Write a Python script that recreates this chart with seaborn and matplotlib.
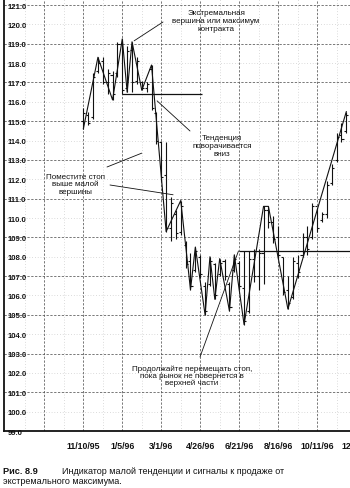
import numpy as np
import pandas as pd
import matplotlib
matplotlib.use("Agg")
import matplotlib.pyplot as plt
import matplotlib.dates as mdates
from matplotlib import font_manager
from matplotlib.ticker import FixedLocator, FixedFormatter
import seaborn as sns

# ---------------- DATA ----------------
bar_dates = pd.date_range("1995-11-10", periods=55, freq="7D")
highs = [115.7, 115.5, 117.5, 118.3, 118.3, 117.7, 117.6, 119.1, 119.25, 118.9,
         119.1, 118.3, 117.1, 117.0, 117.9, 115.5, 114.0, 113.9, 111.1, 110.4,
         110.9, 108.8, 108.2, 108.5, 108.1, 106.7, 108.0, 107.7, 107.9, 107.9,
         106.7, 108.1, 107.8, 108.3, 108.3, 108.4, 108.4, 110.6, 110.6, 110.1,
         109.6, 108.0, 107.0, 108.0, 108.1, 109.2, 109.6, 110.8, 110.5, 110.3,
         111.9, 112.8, 114.4, 114.9, 115.5]
lows = [114.6, 114.8, 115.1, 117.5, 116.9, 116.4, 116.1, 117.3, 116.4, 116.5,
        116.5, 116.9, 116.6, 116.5, 115.6, 113.8, 111.9, 109.3, 108.8, 108.9,
        109.1, 107.4, 106.3, 107.2, 106.9, 105.0, 106.5, 105.8, 107.0, 106.8,
        105.2, 107.2, 106.3, 104.5, 105.1, 106.7, 106.3, 106.6, 109.5, 108.7,
        107.9, 106.0, 105.3, 105.8, 106.9, 108.0, 108.1, 108.9, 109.3, 109.8,
        110.0, 111.7, 112.9, 113.9, 114.4]
opens = [115.0, 115.3, 115.2, 117.6, 118.1, 117.0, 117.4, 117.5, 119.0, 116.7,
         118.7, 117.1, 117.0, 116.7, 117.7, 115.4, 113.9, 112.2, 109.5, 110.2,
         109.3, 108.6, 107.8, 107.3, 108.0, 106.5, 106.6, 107.6, 107.1, 107.8,
         106.6, 107.3, 107.7, 106.4, 105.2, 107.9, 107.0, 108.2, 110.4, 109.8,
         109.0, 108.0, 106.3, 105.9, 107.7, 108.1, 109.0, 109.0, 110.6, 109.9,
         110.2, 111.8, 113.0, 114.3, 114.5]
closes = [115.4, 114.9, 117.3, 118.0, 117.0, 117.5, 116.4, 119.0, 116.6, 118.6,
          117.0, 118.1, 116.7, 116.9, 115.7, 114.0, 112.1, 109.5, 110.8, 109.2,
          110.6, 107.6, 106.5, 108.3, 107.1, 105.2, 107.8, 106.0, 107.7, 107.0,
          105.4, 107.9, 106.5, 104.7, 107.9, 107.0, 108.2, 110.4, 109.8, 108.9,
          108.1, 106.2, 105.6, 107.8, 107.2, 109.0, 108.4, 110.6, 109.5, 110.2,
          111.7, 112.6, 114.2, 114.1, 115.3]

swing_dates = pd.to_datetime([
    "1995-11-10", "1995-12-01", "1995-12-22", "1996-01-05", "1996-01-12",
    "1996-01-19", "1996-02-02", "1996-02-16", "1996-03-08", "1996-03-29",
    "1996-04-12", "1996-04-19", "1996-05-03", "1996-05-10", "1996-05-17",
    "1996-05-24", "1996-06-07", "1996-06-14", "1996-06-28", "1996-07-26",
    "1996-08-02", "1996-08-30", "1996-11-22"])
swing_prices = [114.6, 118.3, 116.1, 119.25, 116.5,
                119.1, 116.6, 117.9, 109.3, 110.9,
                106.3, 108.5, 105.0, 108.0, 105.8,
                107.9, 105.2, 108.1, 104.5, 110.6,
                110.6, 105.3, 115.5]

stop_levels = [116.4, 108.3]
stop_starts = pd.to_datetime(["1996-01-05", "1996-06-21"])
stop_ends = pd.to_datetime(["1996-04-28", "1996-11-27"])

tick_dates = pd.to_datetime(["1995-09-15", "1995-11-10", "1996-01-05", "1996-03-01",
                             "1996-04-26", "1996-06-21", "1996-08-16", "1996-10-11",
                             "1996-12-06"])
tick_labels = ["", "11/10/95", "1/5/96", "3/1/96", "4/26/96", "6/21/96",
               "8/16/96", "10/11/96", "12/6/96"]
mid_dates = pd.to_datetime(["1995-08-18", "1995-10-13", "1995-12-08", "1996-02-02",
                            "1996-03-29", "1996-05-24", "1996-07-19", "1996-09-13",
                            "1996-11-08"])
y_major = [99, 101, 103, 105, 107, 109, 111, 113, 115, 117, 119, 121]
y_minor = [100, 102, 104, 106, 108, 110, 112, 114, 116, 118, 120]

notes = ["Экстремальная\nвершина или максимум\nконтракта",
         "Тенденция\nповорачивается\nвниз",
         "Поместите стоп\nвыше малой\nвершины",
         "Продолжайте перемещать стоп,\nпока рынок не повернется в\nверхней части"]
note_targets_dates = pd.to_datetime(["1996-01-22", "1996-02-24", "1996-02-02",
                                     "1996-03-18", "1996-06-20"])
note_targets_prices = [119.15, 116.05, 113.35, 111.2, 108.3]

caption_num = "Рис. 8.9"
caption_1 = "Индикатор малой тенденции и сигналы к продаже от"
caption_2 = "экстремального максимума."

# ---------------- STYLE ----------------
sns.set_style("white")
names = {f.name for f in font_manager.fontManager.ttflist}
narrow = "Liberation Sans Narrow" if "Liberation Sans Narrow" in names else "Liberation Sans"
plt.rcParams["font.family"] = ["Liberation Sans", "DejaVu Sans"]

W, H = 350, 489
fig = plt.figure(figsize=(W / 100, H / 100), dpi=100)
fig.patch.set_facecolor("white")
ax = fig.add_axes([4 / W, (H - 432) / H, (370 - 4) / W, 432 / H])

# OHLC bars
ink = "#111111"
ax.vlines(bar_dates, lows, highs, color=ink, lw=0.8, zorder=3)
half = pd.Timedelta(days=3)
ax.hlines(opens, bar_dates - half, bar_dates, color=ink, lw=0.8, zorder=3)
ax.hlines(closes, bar_dates, bar_dates + half, color=ink, lw=0.8, zorder=3)

# swing (minor trend) line
sns.lineplot(x=swing_dates, y=swing_prices, ax=ax, color=ink, lw=0.8,
             sort=False, estimator=None, zorder=4)

# stop lines
ax.hlines(stop_levels, stop_starts, stop_ends, color=ink, lw=0.9, zorder=4)

# axes limits
ax.set_xlim(pd.Timestamp("1995-07-19"), pd.Timestamp("1996-12-26"))
ax.set_ylim(99.0, 121.31)

# grid
for d in tick_dates:
    ax.axvline(d, color="#555555", lw=0.55, ls=(0, (3, 2)), zorder=1)
for d in mid_dates:
    ax.axvline(d, color="#bbbbbb", lw=0.5, ls=(0, (1, 3)), zorder=1)
for v in y_major:
    ax.axhline(v, color="#555555", lw=0.55, ls=(0, (3, 2)), zorder=1)
for v in y_minor:
    ax.axhline(v, color="#bbbbbb", lw=0.5, ls=(0, (1, 3)), zorder=1)

# ticks
ax.xaxis.set_major_locator(FixedLocator(mdates.date2num(tick_dates)))
ax.xaxis.set_major_formatter(FixedFormatter(tick_labels))
ax.tick_params(axis="x", length=0, pad=7)
for lab in ax.get_xticklabels():
    lab.set_family([narrow, "DejaVu Sans"])
    lab.set_fontsize(6.3)
    lab.set_fontweight("bold")
    lab.set_color("#111111")

yt = sorted(y_major + y_minor)
ax.yaxis.set_major_locator(FixedLocator(yt))
ax.yaxis.set_major_formatter(FixedFormatter(["%.1f" % v for v in yt]))
ax.tick_params(axis="y", length=0, pad=-2.5)
for lab in ax.get_yticklabels():
    lab.set_horizontalalignment("left")
    lab.set_family([narrow, "DejaVu Sans"])
    lab.set_fontsize(5.6)
    lab.set_fontweight("bold")
    lab.set_color("#111111")
    lab.set_bbox(dict(facecolor="white", edgecolor="none", pad=0.6))
    lab.set_zorder(6)

for s in ["top", "right"]:
    ax.spines[s].set_visible(False)
ax.spines["left"].set_linewidth(1.3)
ax.spines["bottom"].set_linewidth(1.3)
ax.spines["left"].set_color(ink)
ax.spines["bottom"].set_color(ink)
ax.set_xlabel("")
ax.set_ylabel("")

# annotations
def ff(x, y):
    return (x / W, 1 - y / H)

note_pos = [ff(216, 21.5), ff(222, 146), ff(75, 185), ff(192, 376)]
note_ls = [1.15, 1.2, 1.1, 0.95]
for txt, pos, lsp in zip(notes, note_pos, note_ls):
    fig.text(pos[0], pos[1], txt, ha="center", va="center", fontsize=5.8,
             linespacing=lsp, color="#111111", zorder=7)

leader_starts = [ff(163, 23), ff(190, 132), ff(107, 168), ff(110, 186), ff(200, 358)]
for d, p, st in zip(note_targets_dates, note_targets_prices, leader_starts):
    ax.annotate("", xy=(mdates.date2num(d), p), xycoords="data",
                xytext=st, textcoords="figure fraction",
                arrowprops=dict(arrowstyle="-", lw=0.6, color=ink,
                                shrinkA=0, shrinkB=0), zorder=5)

# caption
fig.text(3 / W, 1 - 471.5 / H, caption_num, ha="left", va="center",
         fontsize=6.6, fontweight="bold", color="#111111")
fig.text(62 / W, 1 - 471.5 / H, caption_1, ha="left", va="center",
         fontsize=6.5, color="#111111")
fig.text(3 / W, 1 - 481.5 / H, caption_2, ha="left", va="center",
         fontsize=6.5, color="#111111")

fig.savefig("out.png", dpi=100, facecolor="white")
